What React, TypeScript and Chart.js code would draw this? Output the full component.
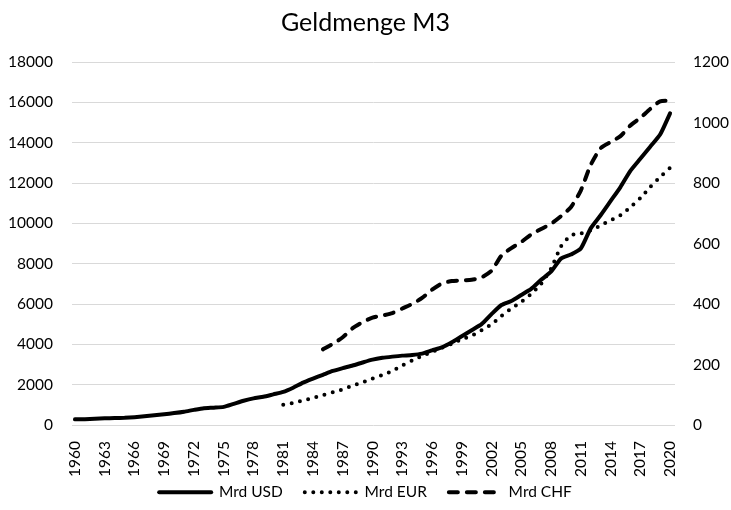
import React, { useEffect, useRef } from "react";
import { Chart, registerables } from "chart.js";

Chart.register(...registerables);

const years = [
  1960, 1961, 1962, 1963, 1964, 1965, 1966, 1967, 1968, 1969,
  1970, 1971, 1972, 1973, 1974, 1975, 1976, 1977, 1978, 1979,
  1980, 1981, 1982, 1983, 1984, 1985, 1986, 1987, 1988, 1989,
  1990, 1991, 1992, 1993, 1994, 1995, 1996, 1997, 1998, 1999,
  2000, 2001, 2002, 2003, 2004, 2005, 2006, 2007, 2008, 2009,
  2010, 2011, 2012, 2013, 2014, 2015, 2016, 2017, 2018, 2019, 2020,
];

const tickYears = [
  1960, 1963, 1966, 1969, 1972, 1975, 1978, 1981, 1984, 1987, 1990,
  1993, 1996, 1999, 2002, 2005, 2008, 2011, 2014, 2017, 2020,
];

// Mrd USD, 1960-2020 (left axis)
const usd = [
  280, 290, 310, 330, 345, 360, 390, 430, 480, 530,
  590, 660, 750, 830, 860, 900, 1050, 1200, 1320, 1400,
  1520, 1640, 1850, 2100, 2300, 2490, 2680, 2820, 2950, 3100,
  3240, 3330, 3390, 3440, 3470, 3540, 3700, 3850, 4100, 4400,
  4700, 5000, 5500, 5950, 6150, 6450, 6750, 7200, 7600, 8250,
  8450, 8750, 9750, 10400, 11100, 11800, 12600, 13200, 13800, 14400, 15450,
];

// Mrd EUR, 1981-2020 (left axis)
const eurStart = 1981;
const eur = [
  1000, 1100, 1220, 1340, 1480, 1620, 1770, 1950, 2120,
  2300, 2480, 2680, 2950, 3200, 3420, 3620, 3830, 4030, 4250,
  4430, 4700, 5000, 5400, 5780, 6100, 6500, 7000, 7750, 8850,
  9400, 9500, 9650, 9900, 10150, 10400, 10800, 11250, 11800, 12300, 12750,
];

// Mrd CHF, 1985-2020 (right axis)
const chfStart = 1985;
const chf = [
  250, 268, 290, 320, 340,
  355, 362, 370, 385, 400, 420, 447, 468, 476, 478,
  480, 488, 510, 560, 585, 605, 630, 648, 665, 690,
  720, 775, 860, 915, 935, 955, 990, 1015, 1045, 1070, 1072,
];

const toPoints = (start: number, vals: number[]) =>
  vals.map((v, i) => ({ x: start + i, y: v }));

const FONT = "Lato, 'Open Sans', sans-serif";
const TXT = "#000000";

export default function App() {
  const ref = useRef<HTMLCanvasElement | null>(null);

  useEffect(() => {
    if (!ref.current) return;
    const tickFont = { family: FONT, size: 15.5 };
    const chart = new Chart(ref.current, {
      type: "line",
      data: {
        datasets: [
          {
            label: "Mrd USD",
            data: toPoints(years[0], usd),
            yAxisID: "y",
            borderColor: "#000",
            backgroundColor: "#000",
            borderWidth: 4,
            pointRadius: 0,
            tension: 0.2,
            borderCapStyle: "round",
          },
          {
            label: "Mrd EUR",
            data: toPoints(eurStart, eur),
            yAxisID: "y",
            borderColor: "#000",
            backgroundColor: "#000",
            borderWidth: 4,
            pointRadius: 0,
            tension: 0.2,
            borderDash: [0, 8.5],
            borderCapStyle: "round",
          },
          {
            label: "Mrd CHF",
            data: toPoints(chfStart, chf),
            yAxisID: "y1",
            borderColor: "#000",
            backgroundColor: "#000",
            borderWidth: 4,
            pointRadius: 0,
            tension: 0.2,
            borderDash: [9, 9],
            borderCapStyle: "round",
          },
        ],
      },
      options: {
        animation: false,
        responsive: true,
        maintainAspectRatio: false,
        layout: { padding: { left: 0, right: 0, top: 0, bottom: 0 } },
        plugins: {
          title: {
            display: true,
            text: "Geldmenge M3",
            color: TXT,
            font: { family: FONT, size: 25, weight: "normal" },
            padding: { top: 8, bottom: 24 },
          },
          legend: {
            position: "bottom",
            labels: {
              usePointStyle: true,
              pointStyle: "line",
              pointStyleWidth: 52,
              color: TXT,
              font: tickFont,
              padding: 22,
              generateLabels: (c: any) => {
                const items = (Chart as any).defaults.plugins.legend.labels.generateLabels(c);
                return items.map((it: any) => {
                  const ds: any = c.data.datasets[it.datasetIndex];
                  return {
                    ...it,
                    lineDash: ds.borderDash || [],
                    lineCap: "round",
                    lineWidth: 4,
                    strokeStyle: "#000",
                    fillStyle: "#000",
                    pointStyle: "line",
                  };
                });
              },
            },
          },
          tooltip: { enabled: false },
        },
        scales: {
          x: {
            type: "linear",
            min: 1959.7,
            max: 2020.5,
            grid: { display: false },
            border: { display: false },
            afterBuildTicks: (axis: any) => {
              axis.ticks = tickYears.map((v) => ({ value: v }));
            },
            afterFit: (s: any) => {
              s.height = 37.5;
              s._computeLabelArea = () => undefined;
            },
            ticks: {
              autoSkip: false,
              minRotation: 90,
              maxRotation: 90,
              padding: 8,
              color: TXT,
              font: tickFont,
              callback: (v: any) => String(v),
            },
          },
          y: {
            position: "left",
            min: 0,
            max: 18000,
            grid: { color: "#d9d9d9", lineWidth: 1, drawTicks: false },
            border: { display: false },
            ticks: { stepSize: 2000, padding: 19, color: TXT, font: tickFont, callback: (v: any) => String(v) },
            afterFit: (s: any) => {
              s.width = 72;
            },
          },
          y1: {
            position: "right",
            min: 0,
            max: 1200,
            grid: { display: false, drawTicks: false },
            border: { display: false },
            ticks: { stepSize: 200, padding: 18, color: TXT, font: tickFont, callback: (v: any) => String(v) },
            afterFit: (s: any) => {
              s.width = 56;
            },
          },
        },
      },
    });
    return () => chart.destroy();
  }, []);

  return (
    <div style={{ position: "fixed", left: 0, top: 0, width: 731, height: 510, background: "#fff" }}>
      <canvas ref={ref} />
    </div>
  );
}
